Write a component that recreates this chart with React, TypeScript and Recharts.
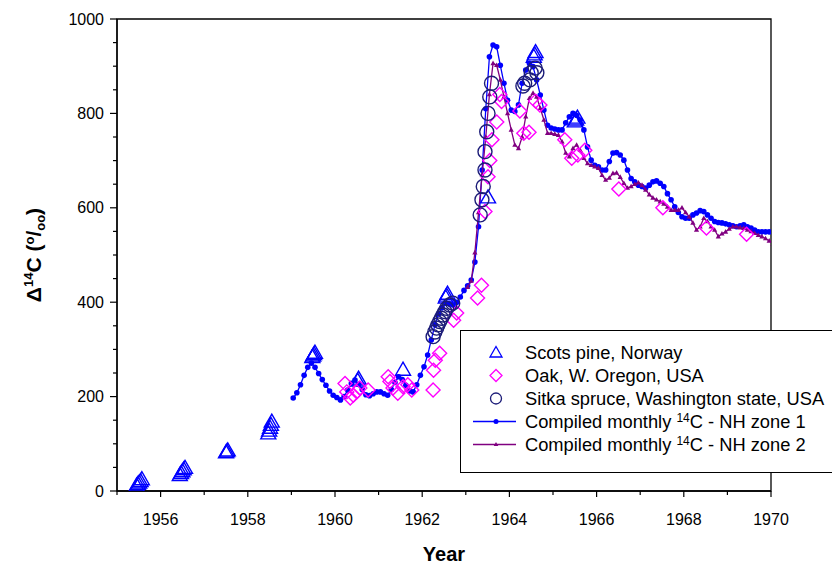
import * as React from "react"
import { ComposedChart, Scatter, XAxis, YAxis, ReferenceArea, Legend, Label } from "recharts"

const FONT = "'Liberation Sans', Arial, sans-serif"
const BLUE = "#0000ff"
const MAGENTA = "#ff00ff"
const NAVY = "#1c1c78"
const PURPLE = "#800080"

// Axis ticks (every year / every 50 permil, labels on the majors)
const xTicks = [1955, 1956, 1957, 1958, 1959, 1960, 1961, 1962, 1963, 1964, 1965, 1966, 1967, 1968, 1969, 1970]
const yTicks = [0, 50, 100, 150, 200, 250, 300, 350, 400, 450, 500, 550, 600, 650, 700, 750, 800, 850, 900, 950, 1000]

// Scots pine, Norway (tree rings)
const pineYears = [
  1955.45, 1955.48, 1955.51, 1955.54, 1955.57,
  1956.44, 1956.47, 1956.5, 1956.53, 1956.56,
  1957.5, 1957.52, 1957.54,
  1958.47, 1958.49, 1958.51, 1958.53, 1958.55,
  1959.48, 1959.5, 1959.52, 1959.54,
  1960.52, 1960.54,
  1961.56,
  1962.54, 1962.56, 1962.58,
  1963.51,
  1964.56, 1964.58, 1964.6,
  1965.5, 1965.53, 1965.56,
]
const pineValues = [
  12, 15, 18, 21, 25,
  34, 38, 42, 46, 49,
  82, 84, 86,
  122, 128, 134, 140, 147,
  284, 287, 290, 293,
  234, 238,
  257,
  410, 414, 418,
  622,
  920, 925, 930,
  783, 787, 791,
]

// Oak, W. Oregon, USA
const oakYears = [
  1960.23, 1960.27, 1960.35, 1960.42, 1960.5, 1960.57, 1960.76,
  1961.22, 1961.26, 1961.33, 1961.44, 1961.56, 1961.67, 1961.76,
  1962.25, 1962.26, 1962.3, 1962.4, 1962.72, 1962.79,
  1963.27, 1963.36, 1963.44, 1963.51, 1963.55, 1963.6, 1963.71, 1963.78, 1963.82,
  1964.24, 1964.33, 1964.45, 1964.6, 1964.7,
  1965.27, 1965.43, 1965.57, 1965.73,
  1966.51, 1967.52, 1968.52, 1969.44,
]
const oakValues = [
  228, 210, 197, 203, 210, 218, 214,
  242, 232, 218, 207, 221, 225, 214,
  214, 256, 277, 292, 362, 377,
  409, 436, 592, 666, 700, 744, 782, 840, 825,
  805, 758, 760, 826, 818,
  744, 705, 712, 722,
  640, 600, 557, 544,
]

// Sitka spruce, Washington state, USA
const sitkaYears = [
  1962.25, 1962.29, 1962.33, 1962.36, 1962.4, 1962.44, 1962.48, 1962.52, 1962.56, 1962.63, 1962.7,
  1963.33, 1963.37, 1963.4, 1963.44, 1963.44, 1963.48, 1963.51, 1963.55, 1963.59,
  1964.31, 1964.35, 1964.47, 1964.5, 1964.59, 1964.63,
]
const sitkaValues = [
  327, 337, 345, 352, 359, 366, 373, 380, 387, 394, 398,
  585, 617, 645, 680, 719, 761, 800, 835, 864,
  858, 864, 871, 886, 896, 886,
]

// Compiled monthly 14C - NH zone 1, Jan 1959 .. Jan 1970
const zone1Start = 1959
const zone1Values = [
  197, 208, 225, 245, 262, 271, 262, 249, 236, 224, 212, 203,
  198, 193, 200, 214, 228, 235, 226, 215, 204, 202, 206, 210,
  210, 206, 203, 215, 230, 242, 236, 224, 212, 210, 225, 245,
  263, 288, 320, 352, 375, 388, 398, 396, 394, 400, 411, 425,
  435, 447, 485, 560, 680, 810, 920, 945, 941, 902, 864, 828,
  807, 804, 818, 864, 892, 906, 899, 871, 839, 807, 775, 769,
  767, 765, 765, 780, 793, 800, 796, 786, 765, 729, 701, 690,
  687, 680, 680, 698, 716, 717, 712, 701, 680, 662, 655, 648,
  645, 642, 648, 655, 657, 652, 645, 630, 617, 602, 590, 581,
  578, 578, 585, 589, 594, 592, 585, 578, 571, 569, 568, 566,
  564, 562, 560, 562, 564, 560, 557, 553, 549, 549, 549, 549,
  549,
]

// Compiled monthly 14C - NH zone 2, Jan 1963 .. Jan 1970
const zone2Start = 1963
const zone2Values = [
  432, 445, 505, 590, 670, 750, 840, 906, 902, 871, 835, 800,
  765, 733, 726, 750, 793, 832, 843, 835, 811, 786, 758, 758,
  756, 754, 740, 716, 708, 726, 733, 722, 705, 694, 690, 687,
  684, 669, 659, 663, 673, 674, 665, 652, 642, 645, 650, 653,
  648, 638, 628, 621, 617, 613, 608, 602, 595, 595, 595, 600,
  590, 581, 568, 553, 560, 578, 571, 560, 553, 539, 545, 549,
  555, 560, 560, 558, 557, 553, 550, 546, 542, 539, 535, 530,
  523,
]

const pairs = (xs: number[], ys: number[]) => xs.map((x, i) => ({ x, y: ys[i] }))
const monthly = (start: number, ys: number[]) => ys.map((y, i) => ({ x: start + (i + 0.5) / 12, y }))

const pineData = pairs(pineYears, pineValues)
const oakData = pairs(oakYears, oakValues)
const sitkaData = pairs(sitkaYears, sitkaValues)
const zone1Data = monthly(zone1Start, zone1Values)
const zone2Data = monthly(zone2Start, zone2Values)

const triangle = (cx: number, cy: number) => `M${cx},${cy - 7.5} L${cx + 7.5},${cy + 5.5} L${cx - 7.5},${cy + 5.5} Z`
const diamond = (cx: number, cy: number) => `M${cx},${cy - 7} L${cx + 7},${cy} L${cx},${cy + 7} L${cx - 7},${cy} Z`

const PineShape = (p: any) => <path d={triangle(p.cx, p.cy)} fill="none" stroke={BLUE} strokeWidth={1.4} />
const OakShape = (p: any) => <path d={diamond(p.cx, p.cy)} fill="none" stroke={MAGENTA} strokeWidth={1.4} />
const SitkaShape = (p: any) => <circle cx={p.cx} cy={p.cy} r={7} fill="none" stroke={NAVY} strokeWidth={1.4} />
const Zone1Dot = (p: any) => <circle cx={p.cx} cy={p.cy} r={2.8} fill={BLUE} />
const Zone2Dot = (p: any) => (
  <path d={`M${p.cx},${p.cy - 2.8} L${p.cx + 2.6},${p.cy + 1.8} L${p.cx - 2.6},${p.cy + 1.8} Z`} fill={PURPLE} />
)

const XTick = (props: any) => {
  const { x, y, payload } = props
  const v = payload.value
  const major = v % 2 === 0
  return (
    <g>
      <line x1={x} x2={x} y1={y} y2={y + (major ? 6 : 4)} stroke="#000" strokeWidth={1.2} />
      {major && (
        <text x={x} y={y + 34} textAnchor="middle" fontSize={16} fontFamily={FONT} fill="#000">
          {v}
        </text>
      )}
    </g>
  )
}

const YTick = (props: any) => {
  const { x, y, payload } = props
  const v = payload.value
  const major = v % 200 === 0
  return (
    <g>
      <line x1={x - (major ? 7 : 4)} x2={x} y1={y} y2={y} stroke="#000" strokeWidth={1.2} />
      {major && (
        <text x={x - 13} y={y + 5.5} textAnchor="end" fontSize={16} fontFamily={FONT} fill="#000">
          {v}
        </text>
      )}
    </g>
  )
}

const XTitle = () => (
  <text x={444} y={561} textAnchor="middle" fontSize={20} fontWeight="bold" fontFamily={FONT} fill="#000">
    Year
  </text>
)

const YTitle = () => (
  <text
    x={41}
    y={255}
    transform="rotate(-90, 41, 255)"
    textAnchor="middle"
    fontSize={21}
    fontWeight="bold"
    fontFamily={FONT}
    fill="#000"
  >
    Δ<tspan dy={-8} fontSize={13}>14</tspan>
    <tspan dy={8}>C (</tspan>
    <tspan dy={-7} fontSize={13}>o</tspan>
    <tspan dy={7}>/</tspan>
    <tspan dy={4} fontSize={13}>oo</tspan>
    <tspan dy={-4}>)</tspan>
  </text>
)

const legendRows = [
  { key: "pine", label: "Scots pine, Norway" },
  { key: "oak", label: "Oak, W. Oregon, USA" },
  { key: "sitka", label: "Sitka spruce, Washington state, USA" },
  { key: "zone1", label: "zone 1" },
  { key: "zone2", label: "zone 2" },
]

const LegendSymbol = ({ kind }: { kind: string }) => {
  const cx = 35
  const cy = 11.5
  return (
    <svg width={64} height={23} style={{ flex: "none" }}>
      {kind === "pine" && <path d={`M${cx},${cy - 6} L${cx + 6},${cy + 4.5} L${cx - 6},${cy + 4.5} Z`} fill="none" stroke={BLUE} strokeWidth={1.3} />}
      {kind === "oak" && <path d={`M${cx},${cy - 6} L${cx + 6},${cy} L${cx},${cy + 6} L${cx - 6},${cy} Z`} fill="none" stroke={MAGENTA} strokeWidth={1.3} />}
      {kind === "sitka" && <circle cx={cx} cy={cy} r={5.5} fill="none" stroke={NAVY} strokeWidth={1.3} />}
      {kind === "zone1" && (
        <g>
          <line x1={12} x2={55} y1={cy} y2={cy} stroke={BLUE} strokeWidth={1.3} />
          <circle cx={cx} cy={cy} r={2.5} fill={BLUE} />
        </g>
      )}
      {kind === "zone2" && (
        <g>
          <line x1={12} x2={55} y1={cy} y2={cy} stroke={PURPLE} strokeWidth={1.3} />
          <path d={`M${cx},${cy - 2.5} L${cx + 2.3},${cy + 1.6} L${cx - 2.3},${cy + 1.6} Z`} fill={PURPLE} />
        </g>
      )}
    </svg>
  )
}

const renderLegend = () => (
  <div
    style={{
      width: 380,
      height: 143,
      boxSizing: "border-box",
      border: "1.3px solid #000",
      background: "#fff",
      paddingTop: 10,
      fontFamily: FONT,
      fontSize: 18.3,
      color: "#000",
    }}
  >
    {legendRows.map((r) => (
      <div key={r.key} style={{ display: "flex", alignItems: "center", height: 23, whiteSpace: "nowrap" }}>
        <LegendSymbol kind={r.key} />
        {r.key.startsWith("zone") ? (
          <span>
            Compiled monthly <sup style={{ fontSize: 12, verticalAlign: 6, lineHeight: 0 }}>14</sup>C - NH {r.label}
          </span>
        ) : (
          <span>{r.label}</span>
        )}
      </div>
    ))}
  </div>
)

export default function App() {
  return (
    <div style={{ width: 832, height: 566, overflow: "hidden", position: "relative", background: "#fff" }}>
      <style>{"body{margin:0;overflow:hidden}"}</style>
      <ComposedChart width={832} height={566} margin={{ top: 19, right: 61, bottom: 0, left: 0 }}>
        <XAxis
          type="number"
          dataKey="x"
          domain={[1955, 1970]}
          ticks={xTicks}
          interval={0}
          allowDataOverflow
          tick={XTick}
          tickLine={false}
          tickSize={0}
          tickMargin={0}
          axisLine={{ stroke: "#000", strokeWidth: 1.3 }}
          height={75}
        >
          <Label content={XTitle} />
        </XAxis>
        <YAxis
          type="number"
          dataKey="y"
          domain={[0, 1000]}
          ticks={yTicks}
          interval={0}
          allowDataOverflow
          tick={YTick}
          tickLine={false}
          tickSize={0}
          tickMargin={0}
          axisLine={{ stroke: "#000", strokeWidth: 1.3 }}
          width={117}
        >
          <Label content={YTitle} />
        </YAxis>
        <ReferenceArea x1={1955} x2={1970} y1={0} y2={1000} fill="none" stroke="#000" strokeWidth={1.3} />
        <Scatter
          name="zone1"
          data={zone1Data}
          line={{ stroke: BLUE, strokeWidth: 1.3 }}
          shape={Zone1Dot}
          isAnimationActive={false}
        />
        <Scatter
          name="zone2"
          data={zone2Data}
          line={{ stroke: PURPLE, strokeWidth: 1.3 }}
          shape={Zone2Dot}
          isAnimationActive={false}
        />
        <Scatter name="pine" data={pineData} shape={PineShape} isAnimationActive={false} />
        <Scatter name="oak" data={oakData} shape={OakShape} isAnimationActive={false} />
        <Scatter name="sitka" data={sitkaData} shape={SitkaShape} isAnimationActive={false} />
        <Legend
          layout="vertical"
          align="center"
          verticalAlign="middle"
          content={renderLegend}
          wrapperStyle={{ left: 460, top: 330, width: 380, height: 143 }}
        />
      </ComposedChart>
    </div>
  )
}
